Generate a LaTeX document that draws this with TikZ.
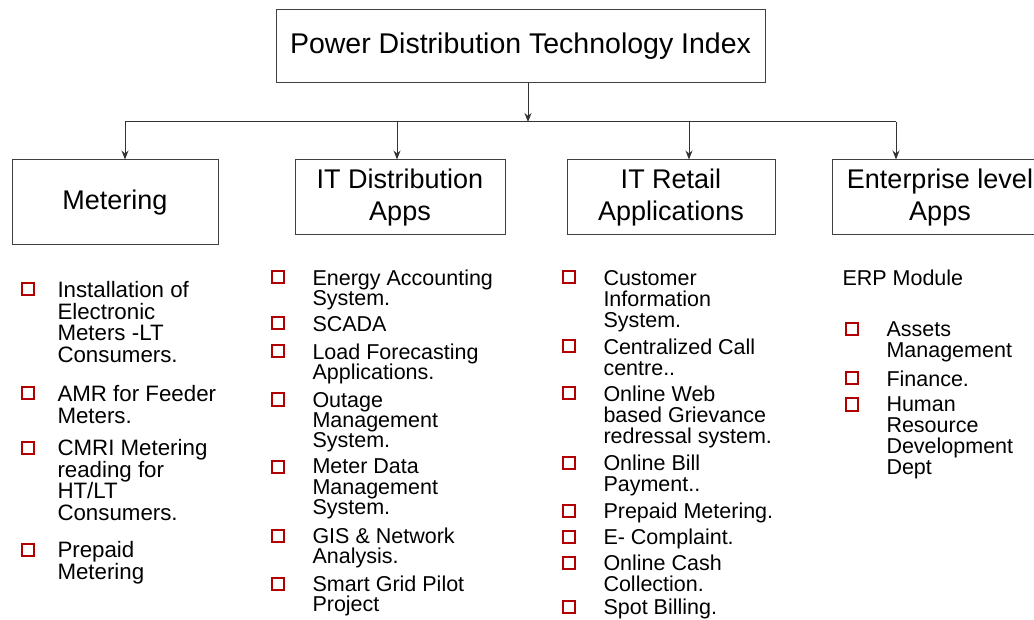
\documentclass[tikz,border=0pt]{standalone}
\usepackage{fontspec}
\setmainfont{Liberation Sans}
\usetikzlibrary{arrows.meta, positioning}
\tikzset{
    box/.style ={rectangle, draw=black!75, line width=1pt, inner sep=0pt,
                 align=center, font=\fontsize{27}{32}\selectfont},
    bul/.style ={rectangle, draw=red!70!black, line width=2pt, fill=white,
                 minimum size=12pt, inner sep=0pt},
    item/.style ={anchor=north west, align=left, inner sep=0pt,
                  font=\fontsize{21.5}{21}\selectfont},
    metitem/.style ={item, font=\fontsize{22.3}{21.5}\selectfont},
    distitem/.style ={item, font=\fontsize{21.5}{20.3}\selectfont}
    }

\begin{document}
\begin{tikzpicture}[
      x=1pt, y=-1pt, % one unit is one pixel of the reference
      > = {Stealth[length=9pt, width=7pt]}, % arrow head style
      line width=1pt
    ]
    \clip (0,0) rectangle (1034,620);

    \node[box, minimum width=489, minimum height=73, font=\fontsize{28.5}{32}\selectfont]
        (index) at (520.5,46.5) {Power Distribution Technology Index};

    \node[box, minimum width=206, minimum height=85] (met) at (115,202.5) {Metering};
    \node[box, minimum width=210, minimum height=75] (itd) at (400,197.5) {IT Distribution\\Apps};
    \node[box, minimum width=208, minimum height=75] (itr) at (671,197.5) {IT Retail\\Applications};
    \node[box, minimum width=216, minimum height=75] (ent) at (940,197.5) {Enterprise level\\Apps};

    % tree connectors
    \coordinate (hub) at (528,122);
    \coordinate (j1) at (125,122);
    \coordinate (j2) at (397,122);
    \coordinate (j3) at (689,122);
    \coordinate (j4) at (896,122);

    \draw[->, black!80] (index.south -| hub) -- (hub);
    \draw[black!80] (j1) -- (j4);
    \draw[->, black!80] (j1) -- (j1 |- met.north);
    \draw[->, black!80] (j2) -- (j2 |- itd.north);
    \draw[->, black!80] (j3) -- (j3 |- itr.north);
    \draw[->, black!80] (j4) -- (j4 |- ent.north);

    % Metering list
    \foreach \yy/\txt in {297/{Installation of\\Electronic\\Meters -LT\\Consumers.},
                          401/{AMR for Feeder\\Meters.},
                          455/{CMRI Metering\\reading for\\HT/LT\\Consumers.},
                          557/{Prepaid\\Metering}}{
        \node[bul] (mb\yy) at (28,\yy-7.5) {};
        \node[metitem] (mt\yy) at (57,\yy-16) {\txt};
    }

    % IT distribution list
    \foreach \yy/\txt in {285/{Energy Accounting\\System.},
                          331/{SCADA},
                          359/{Load Forecasting\\Applications.},
                          407/{Outage\\Management\\System.},
                          474/{Meter Data\\Management\\System.},
                          543/{GIS \& Network\\Analysis.},
                          591/{Smart Grid Pilot\\Project}}{
        \node[bul] (db\yy) at (278,\yy-7.5) {};
        \node[distitem] (dt\yy) at (312,\yy-15.5) {\txt};
    }

    % IT retail list
    \foreach \yy/\txt in {285/{Customer\\Information\\System.},
                          354/{Centralized Call\\centre..},
                          401/{Online Web\\based Grievance\\redressal system.},
                          470/{Online Bill\\Payment..},
                          518/{Prepaid Metering.},
                          544/{E- Complaint.},
                          570/{Online Cash\\Collection.},
                          614/{Spot Billing.}}{
        \node[bul] (rb\yy) at (569,\yy-7.5) {};
        \node[item] (rt\yy) at (603,\yy-15.5) {\txt};
    }

    % enterprise list
    \node[item] (erp) at (842,285-15.5) {ERP Module};
    \foreach \yy/\txt in {337/{Assets\\Management},
                          386/{Finance.},
                          412/{Human\\Resource\\Development\\Dept}}{
        \node[bul] (eb\yy) at (852,\yy-7.5) {};
        \node[item] (et\yy) at (886,\yy-15.5) {\txt};
    }
\end{tikzpicture}
\end{document}
